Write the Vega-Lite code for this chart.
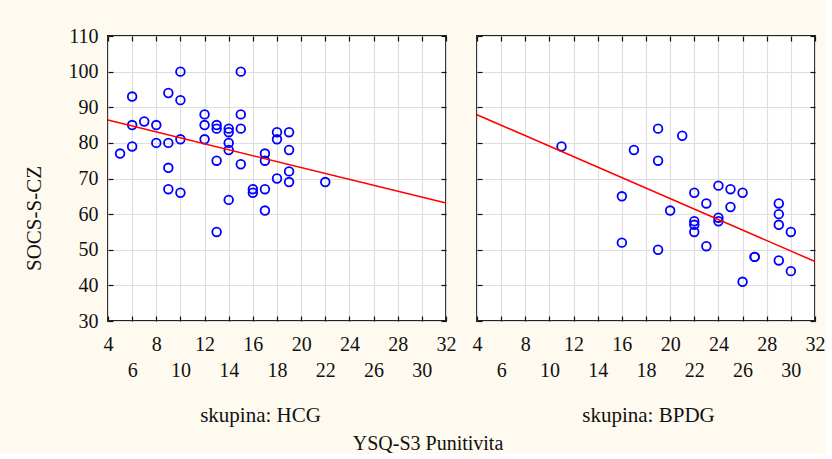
{
  "$schema": "https://vega.github.io/schema/vega-lite/v6.json",
  "background": "#fffaf0",
  "padding": {"left": 22, "top": 25, "right": 0, "bottom": 0},
  "bounds": "flush",
  "spacing": 31,
  "title": {"text": "YSQ-S3  Punitivita", "orient": "bottom", "anchor": "middle", "offset": 8, "dx": 4, "font": "Liberation Serif", "fontSize": 20, "fontWeight": "normal", "color": "#111111"},
  "datasets": {
    "pts": [
      {"g": "HCG", "x": 5, "y": 77}, {"g": "HCG", "x": 6, "y": 93}, {"g": "HCG", "x": 6, "y": 85}, {"g": "HCG", "x": 6, "y": 79},
      {"g": "HCG", "x": 7, "y": 86}, {"g": "HCG", "x": 8, "y": 85}, {"g": "HCG", "x": 8, "y": 80}, {"g": "HCG", "x": 9, "y": 94},
      {"g": "HCG", "x": 9, "y": 80}, {"g": "HCG", "x": 9, "y": 73}, {"g": "HCG", "x": 9, "y": 67}, {"g": "HCG", "x": 10, "y": 100},
      {"g": "HCG", "x": 10, "y": 92}, {"g": "HCG", "x": 10, "y": 81}, {"g": "HCG", "x": 10, "y": 66}, {"g": "HCG", "x": 12, "y": 88},
      {"g": "HCG", "x": 12, "y": 85}, {"g": "HCG", "x": 12, "y": 81}, {"g": "HCG", "x": 13, "y": 85}, {"g": "HCG", "x": 13, "y": 84},
      {"g": "HCG", "x": 13, "y": 75}, {"g": "HCG", "x": 13, "y": 55}, {"g": "HCG", "x": 14, "y": 84}, {"g": "HCG", "x": 14, "y": 83},
      {"g": "HCG", "x": 14, "y": 80}, {"g": "HCG", "x": 14, "y": 78}, {"g": "HCG", "x": 14, "y": 64}, {"g": "HCG", "x": 15, "y": 100},
      {"g": "HCG", "x": 15, "y": 88}, {"g": "HCG", "x": 15, "y": 84}, {"g": "HCG", "x": 15, "y": 74}, {"g": "HCG", "x": 16, "y": 67},
      {"g": "HCG", "x": 16, "y": 66}, {"g": "HCG", "x": 17, "y": 77}, {"g": "HCG", "x": 17, "y": 75}, {"g": "HCG", "x": 17, "y": 67},
      {"g": "HCG", "x": 17, "y": 61}, {"g": "HCG", "x": 18, "y": 83}, {"g": "HCG", "x": 18, "y": 81}, {"g": "HCG", "x": 18, "y": 70},
      {"g": "HCG", "x": 19, "y": 83}, {"g": "HCG", "x": 19, "y": 78}, {"g": "HCG", "x": 19, "y": 72}, {"g": "HCG", "x": 19, "y": 69},
      {"g": "HCG", "x": 22, "y": 69},
      {"g": "BPDG", "x": 11, "y": 79}, {"g": "BPDG", "x": 16, "y": 65}, {"g": "BPDG", "x": 16, "y": 52}, {"g": "BPDG", "x": 17, "y": 78},
      {"g": "BPDG", "x": 19, "y": 84}, {"g": "BPDG", "x": 19, "y": 75}, {"g": "BPDG", "x": 19, "y": 50}, {"g": "BPDG", "x": 20, "y": 61},
      {"g": "BPDG", "x": 21, "y": 82}, {"g": "BPDG", "x": 22, "y": 66}, {"g": "BPDG", "x": 22, "y": 58}, {"g": "BPDG", "x": 22, "y": 57},
      {"g": "BPDG", "x": 22, "y": 55}, {"g": "BPDG", "x": 23, "y": 63}, {"g": "BPDG", "x": 23, "y": 51}, {"g": "BPDG", "x": 24, "y": 68},
      {"g": "BPDG", "x": 24, "y": 59}, {"g": "BPDG", "x": 24, "y": 58}, {"g": "BPDG", "x": 25, "y": 67}, {"g": "BPDG", "x": 25, "y": 62},
      {"g": "BPDG", "x": 26, "y": 66}, {"g": "BPDG", "x": 26, "y": 41}, {"g": "BPDG", "x": 27, "y": 48}, {"g": "BPDG", "x": 27, "y": 48},
      {"g": "BPDG", "x": 29, "y": 63}, {"g": "BPDG", "x": 29, "y": 60}, {"g": "BPDG", "x": 29, "y": 57}, {"g": "BPDG", "x": 29, "y": 47},
      {"g": "BPDG", "x": 30, "y": 55}, {"g": "BPDG", "x": 30, "y": 44}
    ],
    "reg": [
      {"g": "HCG", "x": 4, "y": 86.4}, {"g": "HCG", "x": 32, "y": 63.1},
      {"g": "BPDG", "x": 4, "y": 87.9}, {"g": "BPDG", "x": 32, "y": 46.7}
    ]
  },
  "config": {
    "view": {"stroke": "#222222", "strokeWidth": 2, "fill": "#ffffff"},
    "axis": {
      "domain": false, "tickColor": "#111111", "tickWidth": 1.2, "tickSize": -5,
      "gridColor": "#dedede", "gridWidth": 1.2, "gridOpacity": 1,
      "labelFont": "Liberation Serif", "labelFontSize": 20, "labelColor": "#111111",
      "titleFont": "Liberation Serif", "titleFontSize": 21, "titleFontWeight": "normal", "titleColor": "#111111"
    }
  },
  "hconcat": [
    {
      "width": 338, "height": 285,
      "layer": [
        {
          "data": {"name": "pts"},
          "transform": [{"filter": "datum.g == 'HCG'"}],
          "mark": {"type": "point", "shape": "circle", "filled": false, "color": "#0000ff", "size": 75, "strokeWidth": 1.8, "opacity": 1},
          "encoding": {
            "x": {"field": "x", "type": "quantitative", "scale": {"domain": [4, 32], "nice": false, "zero": false},
              "axis": {"orient": "bottom", "values": [4, 6, 8, 10, 12, 14, 16, 18, 20, 22, 24, 26, 28, 30, 32], "grid": true,
                "title": "skupina: HCG", "titleX": 152, "titleY": 100, "titleBaseline": "alphabetic", "titleAlign": "center",
                "labelExpr": "datum.value % 4 == 2 ? ['', datum.label] : datum.label", "labelLineHeight": 26,
                "labelBaseline": "alphabetic", "labelPadding": 34, "labelOverlap": false, "labelFlush": false}},
            "y": {"field": "y", "type": "quantitative", "scale": {"domain": [30, 110], "nice": false, "zero": false},
              "axis": {"orient": "left", "values": [30, 40, 50, 60, 70, 80, 90, 100, 110], "grid": true,
                "title": "SOCS-S-CZ", "titleX": -74, "titleY": 182, "titleAngle": 270, "titleBaseline": "middle", "titleAlign": "center",
                "labelPadding": 15, "labelBaseline": "middle", "labelOverlap": false, "labelFlush": false}}
          }
        },
        {
          "data": {"name": "reg"},
          "transform": [{"filter": "datum.g == 'HCG'"}],
          "mark": {"type": "line", "color": "#ff0000", "strokeWidth": 1.5},
          "encoding": {
            "x": {"field": "x", "type": "quantitative", "scale": {"domain": [4, 32], "nice": false, "zero": false},
              "axis": {"orient": "top", "values": [4, 6, 8, 10, 12, 14, 16, 18, 20, 22, 24, 26, 28, 30, 32], "grid": false, "labels": false, "title": null}},
            "y": {"field": "y", "type": "quantitative", "scale": {"domain": [30, 110], "nice": false, "zero": false},
              "axis": {"orient": "right", "values": [30, 40, 50, 60, 70, 80, 90, 100, 110], "grid": false, "labels": false, "title": null}}
          }
        }
      ],
      "resolve": {"axis": {"x": "independent", "y": "independent"}}
    },
    {
      "width": 338, "height": 285,
      "layer": [
        {
          "data": {"name": "pts"},
          "transform": [{"filter": "datum.g == 'BPDG'"}],
          "mark": {"type": "point", "shape": "circle", "filled": false, "color": "#0000ff", "size": 75, "strokeWidth": 1.8, "opacity": 1},
          "encoding": {
            "x": {"field": "x", "type": "quantitative", "scale": {"domain": [4, 32], "nice": false, "zero": false},
              "axis": {"orient": "bottom", "values": [4, 6, 8, 10, 12, 14, 16, 18, 20, 22, 24, 26, 28, 30, 32], "grid": true,
                "title": "skupina: BPDG", "titleX": 171, "titleY": 100, "titleBaseline": "alphabetic", "titleAlign": "center",
                "labelExpr": "datum.value % 4 == 2 ? ['', datum.label] : datum.label", "labelLineHeight": 26,
                "labelBaseline": "alphabetic", "labelPadding": 34, "labelOverlap": false, "labelFlush": false}},
            "y": {"field": "y", "type": "quantitative", "scale": {"domain": [30, 110], "nice": false, "zero": false},
              "axis": {"orient": "left", "values": [30, 40, 50, 60, 70, 80, 90, 100, 110], "grid": true, "labels": false, "title": null}}
          }
        },
        {
          "data": {"name": "reg"},
          "transform": [{"filter": "datum.g == 'BPDG'"}],
          "mark": {"type": "line", "color": "#ff0000", "strokeWidth": 1.5},
          "encoding": {
            "x": {"field": "x", "type": "quantitative", "scale": {"domain": [4, 32], "nice": false, "zero": false},
              "axis": {"orient": "top", "values": [4, 6, 8, 10, 12, 14, 16, 18, 20, 22, 24, 26, 28, 30, 32], "grid": false, "labels": false, "title": null}},
            "y": {"field": "y", "type": "quantitative", "scale": {"domain": [30, 110], "nice": false, "zero": false},
              "axis": {"orient": "right", "values": [30, 40, 50, 60, 70, 80, 90, 100, 110], "grid": false, "labels": false, "title": null}}
          }
        }
      ],
      "resolve": {"axis": {"x": "independent", "y": "independent"}}
    }
  ]
}
